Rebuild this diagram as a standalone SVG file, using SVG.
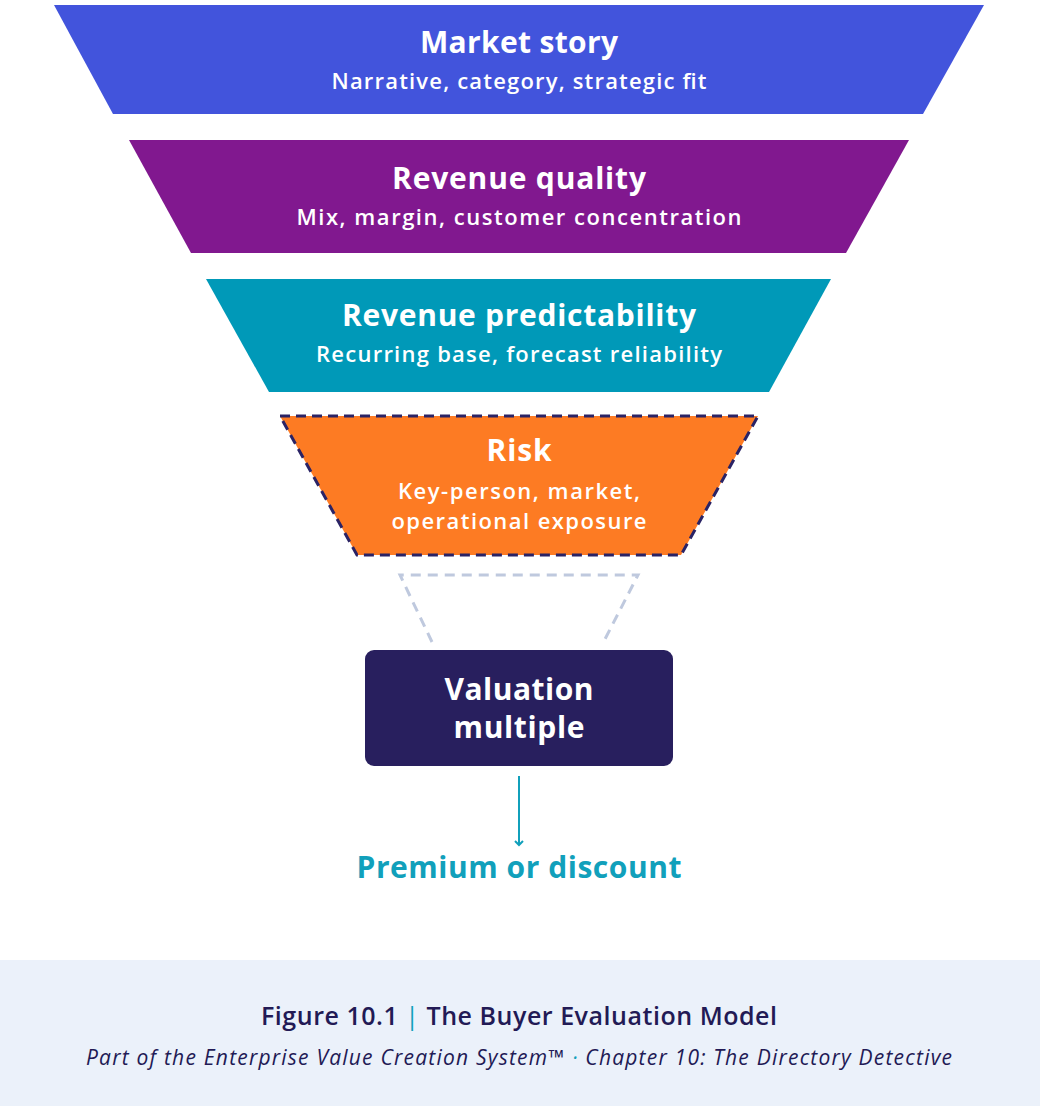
<svg xmlns="http://www.w3.org/2000/svg" width="1040" height="1106" viewBox="0 0 1040 1106">
<style>
.t{font-family:"Open Sans","Liberation Sans",sans-serif;font-weight:700;fill:#fff;text-anchor:middle}
.h{font-size:30px}
.s{font-size:22px;font-weight:600}
.cap{font-family:"Open Sans","Liberation Sans",sans-serif;text-anchor:middle;fill:#221a55}
</style>
<defs>
<marker id="ah" markerWidth="10" markerHeight="10" refX="8" refY="5" orient="auto" markerUnits="userSpaceOnUse">
<path d="M4,1 L8,5 L4,9" fill="none" stroke="#11a0bb" stroke-width="2"/>
</marker>
</defs>
<rect width="1040" height="1106" fill="#fff"/>
<g id="market-story">
<polygon points="54,5 984,5 923,114 113,114" fill="#4254dc"/>
<text class="t h" x="519" y="53" textLength="198" lengthAdjust="spacing">Market story</text>
<text class="t s" x="519" y="89" textLength="375" lengthAdjust="spacing">Narrative, category, strategic fit</text>
</g>
<g id="revenue-quality">
<polygon points="129,140 909,140 846,253 191,253" fill="#81188f"/>
<text class="t h" x="519" y="189" textLength="254" lengthAdjust="spacing">Revenue quality</text>
<text class="t s" x="519" y="225" textLength="445" lengthAdjust="spacing">Mix, margin, customer concentration</text>
</g>
<g id="revenue-predictability">
<polygon points="206,279 831,279 769,392 269,392" fill="#0099b8"/>
<text class="t h" x="519" y="326" textLength="354" lengthAdjust="spacing">Revenue predictability</text>
<text class="t s" x="519" y="362" textLength="406" lengthAdjust="spacing">Recurring base, forecast reliability</text>
</g>
<g id="risk">
<polygon points="280,416 758,416 681,555 357,555" fill="#fd7b23" stroke="#2a2365" stroke-width="3" stroke-dasharray="10,6"/>
<text class="t h" x="519" y="461" textLength="65" lengthAdjust="spacing">Risk</text>
<text class="t s" x="519" y="499" textLength="242" lengthAdjust="spacing">Key-person, market,</text>
<text class="t s" x="519" y="529" textLength="255" lengthAdjust="spacing">operational exposure</text>
</g>
<g id="valuation-multiple">
<rect x="365" y="650" width="308" height="116" rx="9" fill="#281f5e"/>
<text class="t h" x="519" y="700" textLength="149" lengthAdjust="spacing">Valuation</text>
<text class="t h" x="519" y="738" textLength="131" lengthAdjust="spacing">multiple</text>
</g>
<g id="premium-or-discount">
<text class="t" x="519" y="878" textLength="325" lengthAdjust="spacing" style="font-size:30px;fill:#11a0bb">Premium or discount</text>
</g>
<g id="connectors">
<path d="M432,642 L400,575 L638,575 L602,645" fill="none" stroke="#bfc9de" stroke-width="3" stroke-dasharray="10,7"/>
<line x1="519" y1="776" x2="519" y2="845" stroke="#11a0bb" stroke-width="2" marker-end="url(#ah)"/>
</g>
<g id="caption">
<rect x="0" y="960" width="1040" height="146" fill="#ebf1fa"/>
<text class="cap" x="519" y="1025" textLength="516" lengthAdjust="spacing" style="font-size:25px;font-weight:600">Figure 10.1 <tspan fill="#11a0bb" font-weight="400"> | </tspan> The Buyer Evaluation Model</text>
<text class="cap" x="519" y="1065" textLength="866" lengthAdjust="spacing" style="font-size:21px;font-style:italic">Part of the Enterprise Value Creation System™ <tspan fill="#11a0bb"> · </tspan> Chapter 10: The Directory Detective</text>
</g>
</svg>
